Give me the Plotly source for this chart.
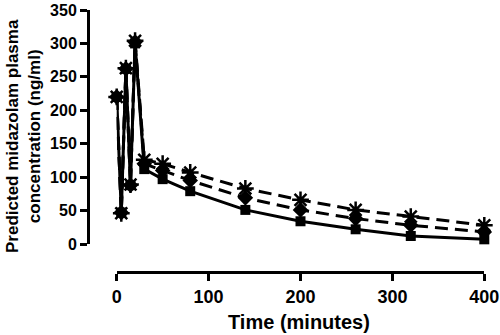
import plotly.graph_objects as go

time_min = [0, 5, 10, 15, 20, 30, 50, 80, 140, 200, 260, 320, 400]
conc_square = [220, 47, 262, 88, 300, 112, 97, 79, 51, 34, 22, 12, 7]
conc_diamond = [220, 47, 262, 88, 302, 120, 110, 95, 69, 51, 38, 28, 18]
conc_star = [220, 46, 263, 89, 304, 126, 120, 107, 83, 66, 51, 41, 28]

x_ticks = [0, 100, 200, 300, 400]
y_ticks = [0, 50, 100, 150, 200, 250, 300, 350]

W, H = 500, 335
FONT = "Liberation Sans, Arial, Helvetica, sans-serif"


def xp(px):
    return px / W


def yp(py):
    return (H - py) / H


fig = go.Figure()
fig.add_trace(go.Scatter(
    x=time_min, y=conc_star, mode="lines+markers", cliponaxis=False,
    line=dict(color="black", width=3, dash="13px,7px"),
    marker=dict(symbol="asterisk-open", size=14, color="black",
                line=dict(color="black", width=2.5)),
    showlegend=False))
fig.add_trace(go.Scatter(
    x=time_min, y=conc_diamond, mode="lines+markers", cliponaxis=False,
    line=dict(color="black", width=3, dash="13px,7px"),
    marker=dict(symbol="diamond", size=12, color="black"),
    showlegend=False))
fig.add_trace(go.Scatter(
    x=time_min, y=conc_square, mode="lines+markers", cliponaxis=False,
    line=dict(color="black", width=3),
    marker=dict(symbol="square", size=10, color="black"),
    showlegend=False))

fig.update_layout(
    width=W, height=H,
    margin=dict(l=0, r=0, t=0, b=0, autoexpand=False),
    plot_bgcolor="white", paper_bgcolor="white",
    font=dict(family=FONT, color="black"),
    xaxis=dict(
        range=[0, 400], domain=[xp(116.7), xp(484.3)],
        anchor="free", position=yp(272), automargin=False,
        tickvals=x_ticks, showgrid=False, zeroline=False,
        showline=True, linecolor="black", linewidth=3,
        ticks="outside", ticklen=7, tickwidth=3, tickcolor="black",
        ticklabeloverflow="allow",
        tickfont=dict(size=18, family=FONT, weight="bold"),
    ),
    yaxis=dict(
        range=[0, 350], domain=[yp(244), yp(10)],
        anchor="free", position=xp(88), automargin=False,
        tickvals=y_ticks, showgrid=False, zeroline=False,
        showline=True, linecolor="black", linewidth=3,
        ticks="outside", ticklen=7, tickwidth=3, tickcolor="black",
        ticklabeloverflow="allow",
        tickfont=dict(size=16, family=FONT, weight="bold"),
    ),
    annotations=[
        dict(text="Time (minutes)", xref="paper", yref="paper",
             x=xp(298.5), y=yp(322), xanchor="center", yanchor="middle",
             showarrow=False, font=dict(size=20, family=FONT, weight="bold")),
        dict(text="Predicted midazolam plasma<br>concentration (ng/ml)",
             xref="paper", yref="paper", textangle=-90,
             x=xp(23), y=yp(136), xanchor="center", yanchor="middle",
             showarrow=False, font=dict(size=17, family=FONT, weight="bold")),
    ],
)

fig.write_html("out.html", config={"displayModeBar": False},
               post_script="document.body.style.margin='0';")
